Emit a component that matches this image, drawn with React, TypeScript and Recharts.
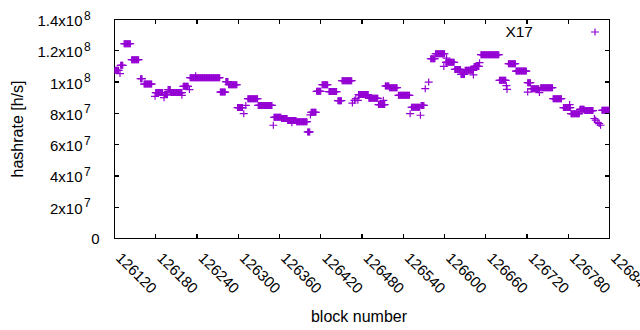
import { ScatterChart, Scatter, XAxis, YAxis, ReferenceArea } from "recharts";

const FONT = '"Liberation Sans", Arial, sans-serif';
const PURPLE = "rgb(148,0,211)";
const INK = "rgb(0,0,0)";

const xTicks = [
  126120, 126180, 126240, 126300, 126360, 126420, 126480, 126540, 126600,
  126660, 126720, 126780, 126840,
];
const yTicks = [0, 2e7, 4e7, 6e7, 8e7, 1e8, 1.2e8, 1.4e8];

// [first block, last block, hashrate] - difficulty stays flat for these spans
const blockRuns: [number, number, number][] = [
  [126120, 126126, 107.5e6],
  [126129, 126132, 110.7e6],
  [126134, 126143, 124.5e6],
  [126145, 126155, 114.3e6],
  [126158, 126160, 102.2e6],
  [126163, 126174, 98.7e6],
  [126180, 126190, 93.3e6],
  [126193, 126197, 92.0e6],
  [126198, 126201, 95.2e6],
  [126202, 126218, 93.3e6],
  [126220, 126227, 97.3e6],
  [126230, 126273, 102.8e6],
  [126274, 126281, 93.6e6],
  [126282, 126285, 100.3e6],
  [126286, 126298, 98.3e6],
  [126299, 126306, 83.7e6],
  [126314, 126328, 89.4e6],
  [126329, 126349, 85.1e6],
  [126352, 126362, 77.5e6],
  [126363, 126371, 76.7e6],
  [126372, 126384, 75.4e6],
  [126385, 126400, 74.7e6],
  [126401, 126404, 68.1e6],
  [126406, 126413, 80.7e6],
  [126414, 126420, 94.1e6],
  [126422, 126430, 98.3e6],
  [126432, 126443, 93.9e6],
  [126445, 126450, 88.1e6],
  [126451, 126465, 100.9e6],
  [126475, 126489, 92.0e6],
  [126490, 126503, 89.6e6],
  [126504, 126513, 85.6e6],
  [126514, 126519, 97.5e6],
  [126520, 126531, 96.4e6],
  [126533, 126549, 91.5e6],
  [126552, 126564, 83.9e6],
  [126566, 126570, 85.1e6],
  [126580, 126586, 114.9e6],
  [126587, 126600, 118.1e6],
  [126602, 126614, 112.6e6],
  [126615, 126623, 108.1e6],
  [126624, 126629, 104.9e6],
  [126630, 126642, 107.5e6],
  [126643, 126650, 110.0e6],
  [126653, 126679, 117.5e6],
  [126680, 126689, 101.1e6],
  [126693, 126703, 111.7e6],
  [126704, 126719, 107.0e6],
  [126721, 126725, 99.6e6],
  [126726, 126737, 95.8e6],
  [126740, 126757, 96.4e6],
  [126758, 126770, 89.4e6],
  [126773, 126783, 83.7e6],
  [126784, 126796, 79.8e6],
  [126797, 126803, 82.6e6],
  [126804, 126816, 81.8e6],
  [126829, 126840, 82.0e6],
];

// [block, hashrate] - stray blocks off the flat spans
const singlePoints: [number, number][] = [
  [126128, 105.4e6],
  [126179, 90.9e6],
  [126192, 90.0e6],
  [126218, 91.5e6],
  [126229, 95.2e6],
  [126238, 104.0e6],
  [126308, 79.8e6],
  [126311, 85.1e6],
  [126351, 72.4e6],
  [126378, 74.0e6],
  [126405, 79.0e6],
  [126466, 86.6e6],
  [126469, 88.3e6],
  [126471, 89.4e6],
  [126474, 88.3e6],
  [126511, 88.3e6],
  [126550, 79.8e6],
  [126565, 78.8e6],
  [126572, 95.8e6],
  [126577, 100.0e6],
  [126599, 110.0e6],
  [126603, 115.3e6],
  [126642, 104.6e6],
  [126651, 112.4e6],
  [126690, 97.7e6],
  [126691, 95.3e6],
  [126721, 93.6e6],
  [126738, 93.3e6],
  [126782, 85.6e6],
  [126818, 76.7e6],
  [126820, 75.7e6],
  [126823, 74.1e6],
  [126825, 73.5e6],
  [126827, 72.4e6],
];

const points = [
  ...blockRuns.flatMap(([from, to, h]) =>
    Array.from({ length: to - from + 1 }, (_, i) => ({ block: from + i, hashrate: h }))
  ),
  ...singlePoints.map(([block, h]) => ({ block, hashrate: h })),
];

function Cross(props: any) {
  const { cx, cy } = props;
  return (
    <path
      d={`M${cx - 4},${cy}h8M${cx},${cy - 3.5}v7`}
      stroke={PURPLE}
      strokeWidth={1.2}
      fill="none"
    />
  );
}

const TICK_W = 1.2;

// tick marks point into the plot, gnuplot style
function BottomTick(props: any) {
  const x = Number(props.x);
  const y = Number(props.y);
  const ax = x + 4.5;
  const ay = y + 16.5;
  return (
    <g>
      <path d={`M${x},${y}L${x},${y - 4.5}`} stroke={INK} strokeWidth={TICK_W}
        fill="none" shapeRendering="crispEdges" />
      <text
        x={ax}
        y={ay}
        transform={`rotate(45 ${ax} ${ay})`}
        fontSize={15}
        fontFamily={FONT}
        fill={INK}
        dominantBaseline="central"
      >
        {props.payload.value}
      </text>
    </g>
  );
}

function TopTick(props: any) {
  const x = Number(props.x);
  const y = Number(props.y);
  return <path d={`M${x},${y}L${x},${y + 4.5}`} stroke={INK} strokeWidth={TICK_W}
    fill="none" shapeRendering="crispEdges" />;
}

function LeftTick(props: any) {
  const x = Number(props.x);
  const y = Number(props.y);
  const v = props.payload.value;
  const tick = <path d={`M${x},${y}L${x + 4.5},${y}`} stroke={INK} strokeWidth={TICK_W}
    fill="none" shapeRendering="crispEdges" />;
  if (v === 0) {
    return (
      <g>
        {tick}
        <text x={x - 15} y={y} textAnchor="end" dominantBaseline="central"
          fontSize={15} fontFamily={FONT} fill={INK}>0</text>
      </g>
    );
  }
  const e = Math.floor(Math.log10(v));
  const m = Number((v / 10 ** e).toFixed(1));
  return (
    <g>
      {tick}
      <text x={x - 32} y={y + 1} textAnchor="end" dominantBaseline="central"
        fontSize={15} fontFamily={FONT} fill={INK}>{m}x10</text>
      <text x={x - 30.5} y={y - 4} dominantBaseline="central"
        fontSize={12} fontFamily={FONT} fill={INK}>{e}</text>
    </g>
  );
}

function RightTick(props: any) {
  const x = Number(props.x);
  const y = Number(props.y);
  return <path d={`M${x},${y}L${x - 4.5},${y}`} stroke={INK} strokeWidth={TICK_W}
    fill="none" shapeRendering="crispEdges" />;
}

export default function App() {
  return (
    <div style={{ position: "absolute", left: 0, top: 0, width: 640, height: 330, background: "#fff" }}>
      <ScatterChart
        width={640}
        height={330}
        margin={{ top: 18.5, right: 29.5, bottom: 31.5, left: 14.5 }}
      >
        <XAxis
          xAxisId="b"
          dataKey="block"
          type="number"
          domain={[126120, 126840]}
          ticks={xTicks}
          interval={0}
          height={60}
          tickSize={0}
          tickMargin={0}
          tickLine={false}
          axisLine={false}
          tick={<BottomTick />}
          allowDataOverflow
          label={({ viewBox }: any) => (
            <text x={359} y={viewBox.y + 83} textAnchor="middle"
              fontSize={16} fontFamily={FONT} fill={INK}>block number</text>
          )}
        />
        <XAxis
          xAxisId="t"
          orientation="top"
          dataKey="block"
          type="number"
          domain={[126120, 126840]}
          ticks={xTicks}
          interval={0}
          height={1}
          tickSize={0}
          tickMargin={0}
          tickLine={false}
          axisLine={false}
          tick={<TopTick />}
          allowDataOverflow
        />
        <YAxis
          yAxisId="l"
          dataKey="hashrate"
          type="number"
          domain={[0, 1.4e8]}
          ticks={yTicks}
          interval={0}
          width={100}
          tickSize={0}
          tickMargin={0}
          tickLine={false}
          axisLine={false}
          tick={<LeftTick />}
          allowDataOverflow
          label={({ viewBox }: any) => {
            const cx = 17;
            const cy = viewBox.y + viewBox.height / 2;
            return (
              <text x={cx} y={cy} transform={`rotate(-90 ${cx} ${cy})`}
                textAnchor="middle" dominantBaseline="central"
                fontSize={16} fontFamily={FONT} fill={INK}>hashrate [h/s]</text>
            );
          }}
        />
        <YAxis
          yAxisId="r"
          orientation="right"
          type="number"
          domain={[0, 1.4e8]}
          ticks={yTicks}
          interval={0}
          width={1}
          tickSize={0}
          tickMargin={0}
          tickLine={false}
          axisLine={false}
          tick={<RightTick />}
          allowDataOverflow
        />
        {/* plot frame */}
        <ReferenceArea
          xAxisId="b"
          yAxisId="l"
          x1={126120}
          x2={126840}
          y1={0}
          y2={1.4e8}
          fill="none"
          fillOpacity={0}
          stroke={INK}
          strokeWidth={1.2}
          strokeOpacity={1}
          shapeRendering="crispEdges"
          ifOverflow="visible"
        />
        <Scatter
          name="X17"
          data={points}
          xAxisId="b"
          yAxisId="l"
          shape={<Cross />}
          isAnimationActive={false}
        />
      </ScatterChart>
      <div
        style={{
          position: "absolute",
          left: 480,
          top: 22,
          width: 130,
          height: 20,
          display: "flex",
          alignItems: "center",
          fontFamily: FONT,
          fontSize: 15.5,
        }}
      >
        <span style={{ width: 53, textAlign: "right" }}>X17</span>
        <svg width={70} height={20}>
          <path d="M58,10h8M62,6.5v7" stroke={PURPLE} strokeWidth={1.2} fill="none" />
        </svg>
      </div>
    </div>
  );
}
